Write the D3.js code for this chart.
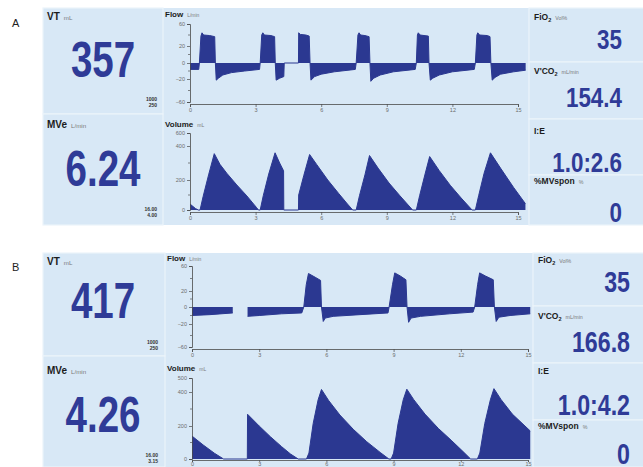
<!DOCTYPE html>
<html>
<head>
<meta charset="utf-8">
<script src="https://cdn.jsdelivr.net/npm/d3@7"></script>
<style>
  body { margin: 0; background: #fff; }
  text { font-family: "Liberation Sans", Arial, sans-serif; }
</style>
</head>
<body>
<svg id="chart" width="643" height="467"></svg>
<script>
const timeTicks = [0, 3, 6, 9, 12, 15];
const flowTicks = [-60, -20, 0, 20, 60];
const flowMinor = [-40, -10, 10, 40];
const volumeTicksA = [0, 200, 400, 600];
const volumeTicksB = [0, 200, 400, 500];
const volumeMinor = [100, 300];

const leftLabels = [["VT", "", "mL"], ["MVe", "", "L/min"]];
const rightLabels = [["FiO", "2", "Vol%"], ["V'CO", "2", "mL/min"], ["I:E", "", ""], ["%MVspon", "", "%"]];
const waveTitles = [["Flow", "", "L/min"], ["Volume", "", "mL"]];

const leftValuesA = ["357", "6.24"];
const leftValuesB = ["417", "4.26"];
const limitsA = [["1000", "250"], ["16.00", "4.00"]];
const limitsB = [["1000", "250"], ["16.00", "3.15"]];
const rightValuesA = ["35", "154.4", "1.0:2.6", "0"];
const rightValuesB = ["35", "166.8", "1.0:4.2", "0"];

// [s, L/min]
const flowA = [
  [0, -8], [0.40, -8], [0.43, 0], [0.50, 38], [0.55, 44], [0.62, 40], [0.90, 39], [1.13, 37], [1.16, 0],
  [1.20, -22], [1.30, -19], [1.50, -15], [1.90, -12], [2.50, -10], [3.18, -8],
  [3.21, 0], [3.28, 40], [3.33, 44], [3.40, 40], [3.70, 39], [3.87, 37], [3.90, 0],
  [3.94, -22], [4.10, -19], [4.29, -17], [4.31, 0], [4.96, 0],
  [4.97, 44], [5.05, 41], [5.30, 40], [5.45, 38], [5.49, 0],
  [5.53, -22], [5.70, -17], [6.00, -14], [6.60, -11], [7.56, -8],
  [7.60, 0], [7.68, 40], [7.73, 44], [7.80, 40], [8.00, 39], [8.19, 37], [8.23, 0],
  [8.27, -24], [8.40, -19], [8.70, -15], [9.30, -11], [10.30, -8],
  [10.35, 0], [10.40, 40], [10.44, 44], [10.52, 40], [10.90, 38], [10.93, 0],
  [10.99, -22], [11.10, -19], [11.40, -15], [12.00, -11], [13.00, -8],
  [13.05, 0], [13.12, 40], [13.16, 44], [13.24, 40], [13.60, 39], [13.72, 37], [13.76, 0],
  [13.82, -22], [13.95, -18], [14.20, -14], [14.80, -11], [15.35, -9]
];
// [s, mL]
const volumeA = [
  [0, 40], [0.10, 28], [0.25, 10], [0.38, 0], [0.46, 0], [0.60, 90], [0.85, 230], [1.11, 355],
  [1.37, 292], [1.68, 240], [2.14, 167], [2.60, 94], [3.05, 15], [3.13, 0], [3.21, 0],
  [3.35, 95], [3.60, 235], [3.89, 360], [4.10, 300], [4.28, 254], [4.29, 0], [4.96, 0],
  [4.97, 100], [5.20, 225], [5.47, 350], [5.80, 290], [6.30, 200], [6.80, 110], [7.20, 40], [7.44, 0], [7.60, 0],
  [7.75, 95], [8.00, 230], [8.21, 344], [8.60, 270], [9.10, 180], [9.60, 95], [10.18, 0], [10.35, 0],
  [10.50, 95], [10.75, 235], [10.96, 338], [11.40, 255], [11.90, 165], [12.40, 80], [12.90, 0], [13.05, 0],
  [13.20, 95], [13.45, 240], [13.74, 360], [14.20, 270], [14.80, 150], [15.34, 42]
];
const flowB = [
  [0, -10], [0.80, -9], [1.82, -7], [2.10, null], [2.48, -11], [3.00, -10], [4.00, -8], [4.90, -7],
  [4.99, 0], [5.10, 30], [5.20, 48], [5.50, 42], [5.74, 37], [5.78, 0],
  [5.86, -17], [5.95, -13], [6.30, -11], [7.50, -9], [8.75, -7],
  [8.80, 0], [8.95, 30], [9.05, 49], [9.30, 44], [9.55, 38], [9.60, 0],
  [9.67, -18], [9.78, -13], [10.20, -11], [11.50, -8], [12.55, -6],
  [12.62, 0], [12.75, 30], [12.84, 49], [13.10, 44], [13.45, 38], [13.50, 0],
  [13.58, -17], [13.70, -12], [14.20, -10], [15.10, -8]
];
const volumeB = [
  [0, 139], [0.50, 85], [1.00, 35], [1.41, 0], [2.47, 0],
  [2.48, 269], [3.00, 200], [3.50, 135], [4.00, 75], [4.40, 30], [4.74, 0], [5.11, 0],
  [5.22, 36], [5.41, 215], [5.63, 354], [5.78, 418], [6.10, 350], [6.60, 265], [7.20, 180], [7.80, 105], [8.40, 40], [8.79, 0], [8.89, 0],
  [9.00, 36], [9.20, 215], [9.43, 354], [9.59, 420], [9.90, 355], [10.40, 270], [11.00, 185], [11.60, 110], [12.10, 45], [12.44, 0], [12.74, 0],
  [12.85, 36], [13.07, 215], [13.32, 354], [13.48, 424], [13.80, 355], [14.30, 270], [15.10, 170]
];

// ---- look ----
const BG = "#d8e8f6", EDGE = "#ecf3fb", INK = "#2f3b97", WAVE = "#2b3891";
const svg = d3.select("#chart");

const panels = [
  {
    letter: "A", letterY: 27, top: 8, bottom: 225,
    leftX: [43, 163], leftBoxes: [[8, 114], [114, 225]], leftLabelY: [20, 128], numY: [77, 186], numX: 103,
    limitsY: [[101, 107], [211, 217]], limitsX: 157, leftValues: leftValuesA, limits: limitsA,
    waves: [
      { data: flowA, ticks: flowTicks, minor: flowMinor, yRange: [102, 79, 63, 46, 24], x: [190, 518], axisY: 104, titleY: 17, tick: 3, pad: 1 },
      { data: volumeA, ticks: volumeTicksA, minor: volumeMinor, yRange: [210, 180, 146, 133], x: [190, 518], axisY: 212, titleY: 127, tick: 3, pad: 1 }
    ],
    rightX: 529, rightBoxes: [[8, 62], [62, 119], [119, 175], [175, 225]], rightLabelY: [20, 74, 134, 184],
    valueY: [49, 107, 172, 222], valueX: 622, valueSize: 28, rightValues: rightValuesA
  },
  {
    letter: "B", letterY: 271, top: 253, bottom: 467,
    leftX: [43, 165], leftBoxes: [[253, 356], [356, 467]], leftLabelY: [265, 374], numY: [318, 432], numX: 103,
    limitsY: [[344, 350], [457, 463]], limitsX: 158, leftValues: leftValuesB, limits: limitsB,
    waves: [
      { data: flowB, ticks: flowTicks, minor: flowMinor, yRange: [347, 324, 307, 291, 266], x: [192, 528], axisY: 349, titleY: 261, tick: 3, pad: 1 },
      { data: volumeB, ticks: volumeTicksB, minor: volumeMinor, yRange: [459, 426, 392, 378], x: [192, 528], axisY: 460, titleY: 371, tick: 2, pad: 0 }
    ],
    rightX: 533, rightBoxes: [[253, 306], [306, 363], [363, 420], [420, 467]], rightLabelY: [263, 319, 374, 429],
    valueY: [292, 352, 415, 464], valueX: 630, valueSize: 29, rightValues: rightValuesB
  }
];

function label(g, x, y, parts, size) {
  const t = g.append("text").attr("x", x).attr("y", y)
    .attr("font-size", size).attr("font-weight", "bold").attr("fill", "#1c1c1c");
  t.append("tspan").text(parts[0]);
  if (parts[1]) t.append("tspan").attr("font-size", size * 0.65).attr("dy", 2).text(parts[1]);
  if (parts[2]) {
    t.append("tspan").attr("font-size", size * 0.62).attr("font-weight", "normal").attr("fill", "#7a7a7a")
      .attr("dx", 4).attr("dy", parts[1] ? -2 : 0).text(parts[2]);
  }
}

function drawWave(g, w, title) {
  const x = d3.scaleLinear().domain([0, 15]).range(w.x);
  const y = d3.scaleLinear().domain(w.ticks).range(w.yRange);
  const ok = d => d[1] !== null;

  g.append("path").datum(w.data)
    .attr("d", d3.area().defined(ok).x(d => x(d[0])).y0(y(0)).y1(d => y(d[1])))
    .attr("fill", WAVE);
  g.append("path").datum(w.data)
    .attr("d", d3.line().defined(ok).x(d => x(d[0])).y(d => y(d[1])))
    .attr("fill", "none").attr("stroke", WAVE).attr("stroke-width", 1);

  // minor ticks
  g.append("g").selectAll("line").data(w.minor.filter(v => v >= w.ticks[0] && v <= w.ticks[w.ticks.length - 1]))
    .join("line")
    .attr("x1", w.x[0] - 2).attr("x2", w.x[0])
    .attr("y1", d => y(d)).attr("y2", d => y(d))
    .attr("stroke", "#555").attr("stroke-width", 0.7);

  const ya = g.append("g").attr("transform", `translate(${w.x[0]},0)`)
    .call(d3.axisLeft(y).tickValues(w.ticks).tickSize(3).tickPadding(2));
  const xa = g.append("g").attr("transform", `translate(0,${w.axisY})`)
    .call(d3.axisBottom(x).tickValues(timeTicks).tickSize(w.tick).tickPadding(w.pad));
  [ya, xa].forEach(a => {
    a.attr("font-size", 5.5).attr("font-family", "Liberation Sans, Arial, sans-serif");
    a.select(".domain").attr("stroke", "#4a4a4a").attr("stroke-width", 0.8);
    a.selectAll(".tick line").attr("stroke", "#4a4a4a").attr("stroke-width", 0.7);
    a.selectAll(".tick text").attr("fill", "#6d6d6d");
  });

  label(g, w.x[0] - 25, w.titleY, title, 8);
}

panels.forEach(p => {
  const g = svg.append("g");
  g.append("text").attr("x", 12).attr("y", p.letterY).attr("font-size", 11).attr("fill", "#222").text(p.letter);

  g.append("rect").attr("x", p.leftX[0]).attr("y", p.top)
    .attr("width", 643 - p.leftX[0]).attr("height", p.bottom - p.top).attr("fill", BG);

  // left readouts
  p.leftBoxes.forEach((b, i) => {
    g.append("rect").attr("x", p.leftX[0]).attr("y", b[0])
      .attr("width", p.leftX[1] - p.leftX[0]).attr("height", b[1] - b[0])
      .attr("fill", BG).attr("stroke", EDGE).attr("stroke-width", 1.2);
    label(g, p.leftX[0] + 4, p.leftLabelY[i], leftLabels[i], 10);
    g.append("text").attr("transform", `translate(${p.numX},${p.numY[i]}) scale(0.77,1)`)
      .attr("text-anchor", "middle").attr("font-size", 50).attr("font-weight", "bold")
      .attr("fill", INK).text(p.leftValues[i]);
    p.limits[i].forEach((s, k) => {
      g.append("text").attr("x", p.limitsX).attr("y", p.limitsY[i][k]).attr("text-anchor", "end")
        .attr("font-size", 5).attr("font-weight", "bold").attr("fill", "#333").text(s);
    });
  });

  p.waves.forEach((w, i) => drawWave(g, w, waveTitles[i]));

  // right readouts (drawn last, they cover the waveform tails)
  p.rightBoxes.forEach((b, i) => {
    g.append("rect").attr("x", p.rightX).attr("y", b[0])
      .attr("width", 643 - p.rightX + 2).attr("height", b[1] - b[0])
      .attr("fill", BG).attr("stroke", EDGE).attr("stroke-width", 1.2);
    label(g, p.rightX + 5, p.rightLabelY[i], rightLabels[i], 8.5);
    g.append("text").attr("transform", `translate(${p.valueX},${p.valueY[i]}) scale(0.8,1)`)
      .attr("text-anchor", "end").attr("font-size", p.valueSize).attr("font-weight", "bold")
      .attr("fill", INK).text(p.rightValues[i]);
  });
});
</script>
</body>
</html>
